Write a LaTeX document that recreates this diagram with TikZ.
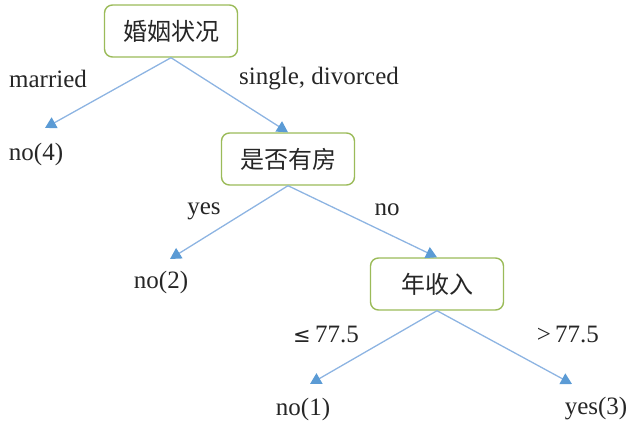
\documentclass[tikz,border=0pt]{standalone}
\usepackage{fontspec}
\setmainfont{Liberation Serif}
\newfontfamily\cjk{Noto Sans CJK SC}
\newfontfamily\symfont{DejaVu Sans}
\usetikzlibrary{arrows.meta}
\definecolor{edgeblue}{HTML}{8DB4E2}
\definecolor{tipblue}{HTML}{5B9BD5}
\definecolor{boxgreen}{HTML}{9BBB59}
\definecolor{txt}{HTML}{262626}
\begin{document}
\begin{tikzpicture}[x=1pt,y=-1pt,
  decision/.style={draw=boxgreen,line width=1.4pt,rounded corners=8pt,fill=white,
    minimum width=133pt,minimum height=52pt,font=\cjk\fontsize{24}{28}\selectfont,text=txt},
  leaf/.style={font=\fontsize{25}{29}\selectfont,text=txt,inner sep=0pt},
  lbl/.style={font=\fontsize{25}{29}\selectfont,text=txt,inner sep=0pt},
  conn/.style={draw=edgeblue,line width=1.3pt,-{Triangle[length=11pt,width=12pt,fill=tipblue,color=tipblue]}}]
\useasboundingbox (0,0) rectangle (638,428);
\node[decision] (root) at (171,31) {婚姻状况};
\node[decision] (house) at (288,159) {是否有房};
\node[decision] (inc) at (437,284) {年收入};
\coordinate (t4) at (45,128);
\coordinate (t2) at (170,259);
\coordinate (t1) at (310,384);
\coordinate (t3) at (572,384);
\node[leaf] (l4) at (36,154) {no(4)};
\node[leaf] (l2) at (161,282) {no(2)};
\node[leaf] (l1) at (303,409) {no(1)};
\node[leaf] (l3) at (596,409) {yes(3)};
\draw[conn] (root.south) -- (t4);
\draw[conn] (root.south) -- (house.north);
\draw[conn] (house.south) -- (t2);
\draw[conn] (house.south) -- (inc.north);
\draw[conn] (inc.south) -- (t1);
\draw[conn] (inc.south) -- (t3);
\node[lbl] (m) at (48,79) {married};
\node[lbl] (s) at (319,79) {single, divorced};
\node[lbl] (y) at (204,211) {yes};
\node[lbl] (n) at (387,210) {no};
\node[lbl] (le) at (326,334) {{\symfont\fontsize{21}{24}\selectfont ≤}\,77.5};
\node[lbl] (gt) at (568,334) {>\,77.5};
\end{tikzpicture}
\end{document}
